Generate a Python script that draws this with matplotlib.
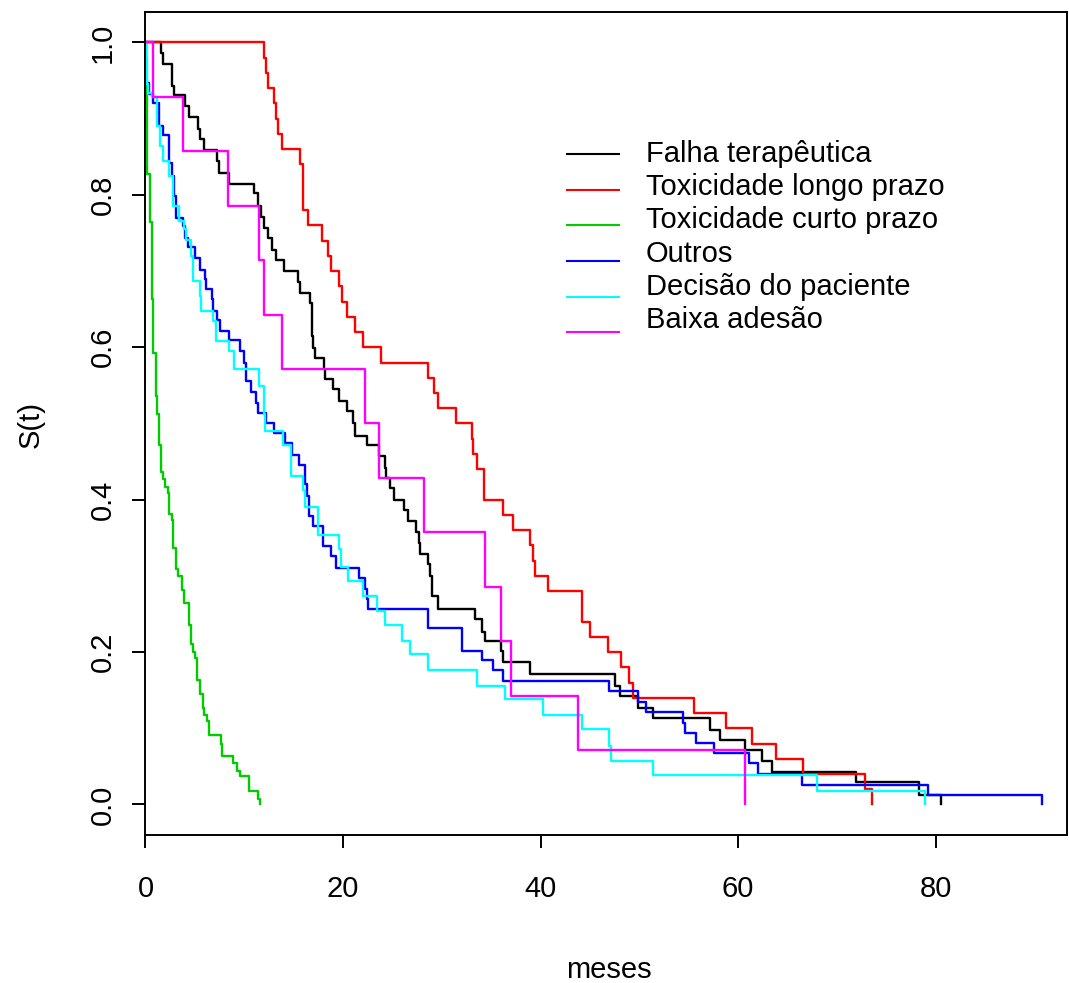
import matplotlib
matplotlib.use("Agg")
import matplotlib.pyplot as plt

# Kaplan-Meier curves (time in months, S(t))
groups = ["Falha terapêutica", "Toxicidade longo prazo", "Toxicidade curto prazo",
          "Outros", "Decisão do paciente", "Baixa adesão"]
colors = ["#000000", "#FF0000", "#00CD00", "#0000FF", "#00FFFF", "#FF00FF"]

falha_t = [0, 1.59, 1.75, 2.66, 2.87, 3.95, 4.39, 5.3, 5.47, 5.97, 7.22, 7.42, 8.5, 11.03, 11.37,
           11.7, 11.98, 12.37, 12.82, 13.22, 14.07, 15.4, 15.66, 16.67, 16.87, 17.0, 17.2, 18.1, 18.2,
           18.96, 19.57, 20.37, 21.05, 21.22, 22.4, 23.6, 24.2, 24.4, 24.8, 25.2, 26.2, 26.6, 27.4,
           27.7, 27.8, 28.57, 28.8, 29.0, 29.6, 33.4, 34.1, 34.4, 36.0, 36.2, 38.97, 47.55, 48.0,
           49.9, 51.4, 57.2, 58.2, 60.7, 62.4, 63.4, 71.9, 78.3, 80.5]
falha_s = [1, 0.986, 0.972, 0.943, 0.931, 0.916, 0.902, 0.886, 0.873, 0.859, 0.844, 0.829, 0.814,
           0.802, 0.785, 0.771, 0.757, 0.743, 0.728, 0.715, 0.700, 0.686, 0.671, 0.658, 0.615, 0.599,
           0.586, 0.571, 0.558, 0.545, 0.529, 0.516, 0.500, 0.484, 0.472, 0.457, 0.442, 0.429, 0.415,
           0.400, 0.386, 0.372, 0.358, 0.343, 0.329, 0.315, 0.300, 0.273, 0.257, 0.243, 0.227, 0.215,
           0.201, 0.187, 0.171, 0.155, 0.142, 0.127, 0.114, 0.098, 0.085, 0.071, 0.057, 0.042, 0.029,
           0.013, 0]

longo_t = [0, 12.04, 12.22, 12.45, 13.06, 13.23, 13.46, 13.8, 15.66, 15.99, 16.43, 17.84, 18.45,
           18.8, 19.64, 19.87, 20.4, 21.2, 22.0, 23.85, 28.58, 29.25, 29.6, 31.4, 33.07, 33.2, 33.6,
           34.3, 36.2, 37.2, 38.97, 39.2, 39.4, 40.8, 44.2, 45.0, 46.86, 48.15, 49.0, 49.4, 55.57,
           58.8, 61.4, 63.8, 66.6, 72.8, 73.6]
longo_s = [1, 0.98, 0.96, 0.94, 0.92, 0.90, 0.88, 0.86, 0.84, 0.78, 0.76, 0.74, 0.72, 0.70, 0.68,
           0.66, 0.64, 0.62, 0.60, 0.58, 0.56, 0.54, 0.52, 0.50, 0.48, 0.46, 0.44, 0.40, 0.38, 0.36,
           0.34, 0.32, 0.30, 0.28, 0.24, 0.22, 0.20, 0.18, 0.16, 0.14, 0.12, 0.10, 0.08, 0.06, 0.04,
           0.02, 0]

curto_t = [0, 0.03, 0.1, 0.2, 0.43, 0.64, 0.81, 1.08, 1.2, 1.35, 1.59, 1.82, 2.02, 2.26, 2.43,
           2.66, 2.83, 3.04, 3.27, 3.67, 3.85, 4.45, 4.63, 4.79, 5.03, 5.23, 5.47, 5.8, 5.97, 6.25,
           6.48, 7.66, 7.76, 8.84, 9.24, 9.58, 10.46, 11.44, 11.6]
curto_s = [1, 0.98, 0.93, 0.827, 0.764, 0.664, 0.592, 0.536, 0.512, 0.472, 0.436, 0.427, 0.417,
           0.409, 0.381, 0.373, 0.337, 0.309, 0.300, 0.282, 0.265, 0.236, 0.211, 0.200, 0.192, 0.163,
           0.145, 0.127, 0.117, 0.109, 0.091, 0.080, 0.063, 0.055, 0.044, 0.037, 0.018, 0.0075, 0]

outros_t = [0, 0.05, 0.07, 0.4, 0.74, 1.35, 1.82, 2.43, 2.66, 2.9, 3.04, 3.78, 3.95, 4.28, 5.03,
            5.47, 6.04, 6.14, 6.75, 6.88, 7.22, 7.5, 8.5, 9.6, 10.0, 10.2, 10.7, 11.2, 11.37, 12.2,
            13.06, 14.17, 14.85, 15.59, 16.16, 16.4, 16.6, 17.0, 17.95, 18.8, 19.3, 21.66, 22.24,
            22.44, 22.57, 28.57, 32.0, 34.1, 35.15, 36.2, 46.96, 49.9, 50.7, 54.4, 54.6, 55.7, 57.6,
            61.1, 62.0, 66.5, 79.2, 90.75]
outros_s = [1, 0.987, 0.947, 0.932, 0.921, 0.891, 0.878, 0.842, 0.825, 0.798, 0.770, 0.759, 0.744,
            0.731, 0.717, 0.702, 0.689, 0.676, 0.663, 0.647, 0.636, 0.622, 0.609, 0.595, 0.580, 0.556,
            0.541, 0.527, 0.514, 0.500, 0.488, 0.475, 0.459, 0.446, 0.420, 0.405, 0.378, 0.365, 0.339,
            0.326, 0.310, 0.297, 0.283, 0.270, 0.257, 0.231, 0.202, 0.189, 0.176, 0.162, 0.149, 0.135,
            0.122, 0.107, 0.094, 0.081, 0.068, 0.055, 0.040, 0.026, 0.013, 0]

decisao_t = [0, 0.03, 0.13, 0.3, 0.68, 1.15, 1.42, 1.75, 2.43, 2.77, 3.44, 3.85, 4.12, 4.63, 4.79,
             5.47, 5.57, 6.88, 7.15, 8.43, 9.0, 11.54, 11.98, 12.15, 13.97, 14.75, 15.92, 16.16,
             17.45, 19.64, 19.8, 20.5, 22.0, 23.4, 24.2, 26.0, 26.8, 28.57, 33.6, 36.4, 40.2, 44.2,
             46.96, 47.1, 51.4, 67.95, 78.95]
decisao_s = [1, 0.98, 0.945, 0.934, 0.928, 0.890, 0.864, 0.844, 0.825, 0.785, 0.766, 0.755, 0.741,
             0.720, 0.687, 0.667, 0.647, 0.634, 0.608, 0.595, 0.571, 0.549, 0.512, 0.490, 0.472,
             0.431, 0.413, 0.391, 0.353, 0.335, 0.312, 0.293, 0.274, 0.254, 0.236, 0.215, 0.198,
             0.176, 0.155, 0.139, 0.118, 0.099, 0.077, 0.057, 0.039, 0.018, 0]

adesao_t = [0, 0.8, 3.78, 8.33, 11.47, 12.04, 13.83, 22.24, 23.6, 28.24, 34.41, 36.0, 37.0, 43.76, 60.7]
adesao_s = [1, 0.929, 0.857, 0.786, 0.714, 0.643, 0.571, 0.500, 0.429, 0.357, 0.286, 0.214, 0.143,
            0.071, 0]

curves = [(falha_t, falha_s), (longo_t, longo_s), (curto_t, curto_s),
          (outros_t, outros_s), (decisao_t, decisao_s), (adesao_t, adesao_s)]

plt.rcParams["font.family"] = ["Liberation Sans", "DejaVu Sans"]
plt.rcParams["font.size"] = 21

fig = plt.figure(figsize=(10.69, 9.83), dpi=100)
ax = fig.add_axes([0.1361, 0.1506, 0.8620, 0.8372])

for (t, s), c in zip(curves, colors):
    ax.step(t, s, where="post", color=c, lw=1.7)

ax.set_xlim(0, 93.3)
ax.set_ylim(-0.04, 1.04)
ax.set_xticks([0, 20, 40, 60, 80])
ax.set_yticks([0.0, 0.2, 0.4, 0.6, 0.8, 1.0])
ax.set_yticklabels(["0.0", "0.2", "0.4", "0.6", "0.8", "1.0"])
ax.tick_params(length=9.5, width=1.4, direction="out")
ax.tick_params(axis="x", pad=19)
ax.tick_params(axis="y", pad=11, labelrotation=90)
for lab in ax.get_yticklabels():
    lab.set_va("center")
for sp in ax.spines.values():
    sp.set_linewidth(1.4)

# legend drawn by hand, like R's legend(bty = "n")
for i, (g, c) in enumerate(zip(groups, colors)):
    yl = 0.8275 - i * 0.04338
    ax.plot([0.4574, 0.5138], [yl, yl], color=c, lw=1.5, transform=ax.transAxes)
    ax.text(0.5431, 0.8181 - i * 0.04046, g, transform=ax.transAxes, va="baseline", ha="left")

fig.text(0.5697, 0.005, "meses", ha="center", va="baseline")
fig.text(0.029, 0.5677, "S(t)", rotation=90, ha="center", va="center")

fig.savefig("out.png", dpi=100)
